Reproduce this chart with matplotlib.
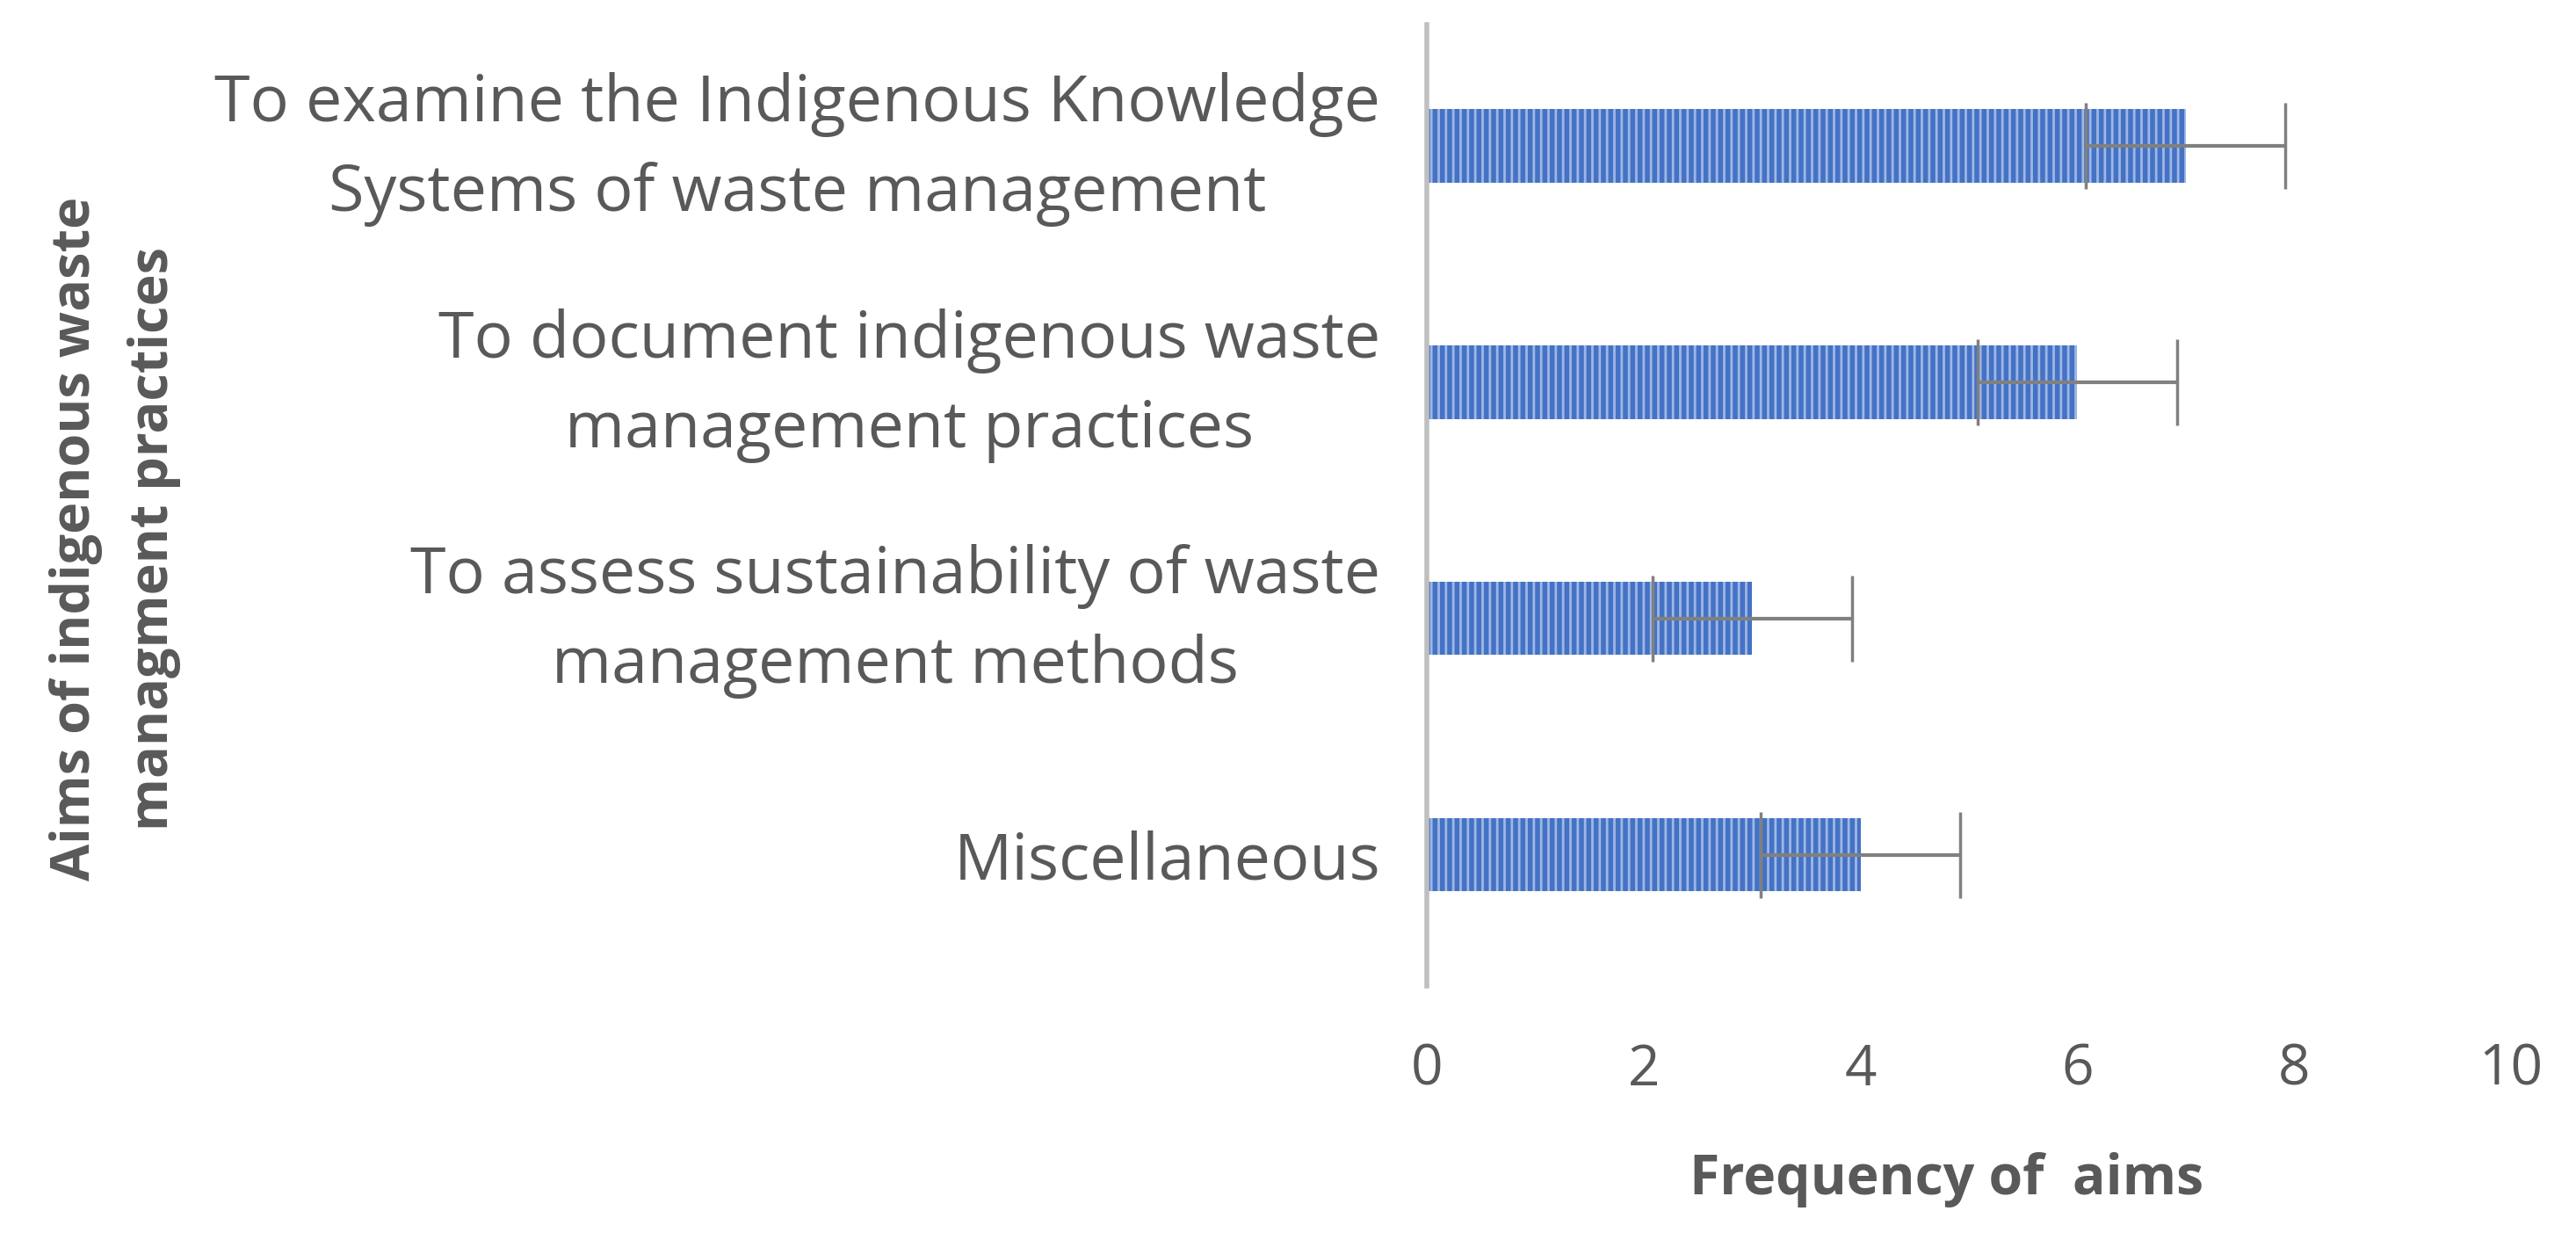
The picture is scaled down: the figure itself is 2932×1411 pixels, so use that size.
import matplotlib
matplotlib.use("Agg")
import matplotlib.pyplot as plt
import matplotlib.transforms as mtransforms

categories = [
    "To examine the Indigenous Knowledge\nSystems of waste management",
    "To document indigenous waste\nmanagement practices",
    "To assess sustainability of waste\nmanagement methods",
    "Miscellaneous",
]
values = [7, 6, 3, 4]
errors = [0.92, 0.92, 0.92, 0.92]
xticks = [0, 2, 4, 6, 8, 10]

plt.rcParams['font.family'] = ['Open Sans', 'DejaVu Sans']
plt.rcParams['hatch.linewidth'] = 2.0
plt.rcParams['hatch.color'] = '#9fb7e6'

W, H = 2932, 1411
fig = plt.figure(figsize=(W / 100, H / 100), dpi=100)
left, right = 1624 / W, 2858 / W
top, bottom = 1 - 28 / H, 1 - 1122 / H
ax = fig.add_axes([left, bottom, right - left, top - bottom])

ypos = list(range(len(categories)))
ax.barh(ypos, values, height=0.31, color='#4472c4', edgecolor='#9fb7e6',
        hatch='||', linewidth=0, zorder=2)
ax.errorbar(values, ypos, xerr=errors, fmt='none', ecolor='#808080',
            elinewidth=3, capsize=35, capthick=2.5, zorder=3)

ax.set_xlim(0, 10)
ax.set_ylim(3.556, -0.514)
ax.set_xticks(xticks)
ax.set_xticklabels([str(t) for t in xticks])
ax.set_yticks(ypos)
ax.set_yticklabels(categories, multialignment='center', linespacing=1.5)
ax.tick_params(axis='x', length=0, pad=46, labelsize=46, labelcolor='#595959')
ax.tick_params(axis='y', length=0, pad=38, labelsize=53, labelcolor='#595959')

# nudge multi-line category labels up so their text block centres on the bar
shift = mtransforms.ScaledTranslation(0, 14 / 72, fig.dpi_scale_trans)
for lbl in ax.get_yticklabels():
    if "\n" in lbl.get_text():
        lbl.set_transform(lbl.get_transform() + shift)

for s in ['top', 'right', 'bottom']:
    ax.spines[s].set_visible(False)
ax.spines['left'].set_color('#bfbfbf')
ax.spines['left'].set_linewidth(4)

fig.text(2216 / W, 1 - 1342 / H, "Frequency of  aims", ha='center', va='center',
         fontsize=45, fontweight='bold', color='#595959')
fig.text(131 / W, 1 - 613 / H, "Aims of indigenous waste\nmanagment practices",
         rotation=90, ha='center', va='center', fontsize=44, linespacing=1.6,
         fontweight='bold', color='#595959', multialignment='center')

fig.savefig("out.png", dpi=100, facecolor='white')
